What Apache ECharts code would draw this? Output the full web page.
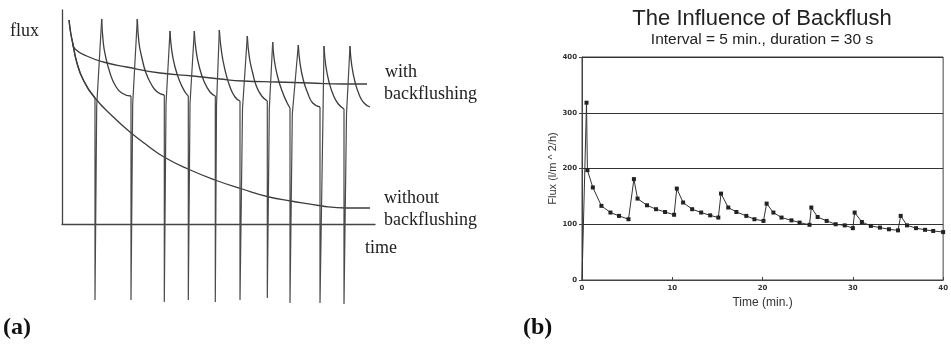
<!DOCTYPE html>
<html><head><meta charset="utf-8">
<script src="https://cdn.jsdelivr.net/npm/echarts@6/dist/echarts.min.js"></script>
<style>html,body{margin:0;padding:0;background:#fff}#c{width:951px;height:351px}</style>
</head><body><div id="c"></div>
<script>
// ---------- Panel (a): schematic flux vs time (arbitrary units) ----------
const aWithout = [[7,204],[8.7,191],[10.7,181],[14.7,162],[21.3,144],[33,126],[51.3,107],[68,92],[84.7,79],[102,67],[126,55],[153,44],[180,35],[207,27],[229,23],[260,18],[284,16],[308,16]];
const aWith = [[10.7,181],[13,175],[24.7,168],[41.3,162],[64.7,157],[98,151],[131,148],[158,145],[181,143],[215,142],[248,141],[281,140],[305,140]];
// decay portion of each backflush cycle (peak -> trough)
const aCycles = [
  [[7,204],[8.7,191],[10.7,181],[14.7,162],[21.3,144],[33,126]],
  [[39.7,205],[41.3,181],[43.7,167],[48,151],[53,139],[59.7,131],[69,128]],
  [[75.3,205],[77,181],[79.7,167],[84,151],[89.7,139],[95.3,132],[102.3,129]],
  [[108,193],[109.7,174],[113,157],[118,142],[123,132],[126.3,128]],
  [[132.3,193],[134,174],[137.3,157],[142.3,142],[148,132],[153.3,128]],
  [[157.3,194],[159.7,171],[163,154],[168,137],[173,127],[178,123]],
  [[185.3,188],[187.3,167],[190.7,151],[194.7,137],[199.7,128],[205.3,123]],
  [[210.7,182],[212.3,164],[215.7,147],[219.7,134],[224.7,122],[228,116]],
  [[236.3,179],[238,161],[241.3,144],[245.7,131],[250.7,121],[258,117]],
  [[262,178],[263.7,159],[267,142],[271.3,129],[276.3,120],[282,115]],
  [[288,178],[289.7,159],[293,142],[297.3,129],[302,121],[308,117]]
];
// backflush spikes: trough -> negative flux -> back up to next peak
const aSpikes = [
  [[33,126],[33,-76],[34.2,-76],[34.7,118],[39.7,205]],
  [[69,128],[69,-76],[70.2,-76],[70.7,120],[75.3,205]],
  [[102.3,129],[102.3,-78],[103.5,-78],[104,120],[108,193]],
  [[126.3,128],[126.3,-76],[127.5,-76],[128,120],[132.3,193]],
  [[153.3,128],[153.3,-78],[154,-78],[154.5,118],[157.3,194]],
  [[178,123],[178,-76],[179.5,-76],[180.5,115],[185.3,188]],
  [[205.3,123],[205.3,-74],[206.5,-74],[207.3,115],[210.7,182]],
  [[228,116],[228,-79],[229.5,-79],[230.3,110],[236.3,179]],
  [[258,117],[258,-79],[259.5,-79],[261,110],[262,178]],
  [[282,115],[282,-80],[283.5,-80],[284.5,110],[288,178]]
];

// ---------- Panel (b): The Influence of Backflush ----------
const bTime = [0,0.5,0.6,1.2,2.15,3.15,4.1,5.15,5.75,6.15,7.2,8.2,9.2,10.2,10.5,11.2,12.2,13.2,14.2,15.1,15.4,16.2,17.1,18.2,19.1,20.1,20.45,21.2,22.1,23.2,24.1,25.2,25.4,26.1,27.1,28.1,29.1,30.0,30.2,31.0,32.0,33.0,34.0,35.0,35.3,36.0,37.0,38.0,38.9,40.0];
const bFlux = [0,318,197,166,133,121,115,109,181,146,134,127,122,117,164,139,127,121,116,112,155,130,122,115,109,106,137,121,112,107,103,99,130,113,106,100,98,93,121,104,97,94,91,89,115,98,93,90,88,86];
const bXTicks = [0,10,20,30,40];
const bYTicks = [0,100,200,300,400];

const chart = echarts.init(document.getElementById('c'), null, {renderer:'canvas'});
const lineA = {color:'#3c3c3c', width:1.3};
const serif = '"Liberation Serif","Times New Roman",serif';
const sans = '"Liberation Sans",Arial,Helvetica,sans-serif';

const series = [];
const smoothA = {smooth:0.5, symbol:'none', clip:false, lineStyle:lineA, silent:true, xAxisIndex:0, yAxisIndex:0, type:'line'};
series.push(Object.assign({data:aWithout}, smoothA));
series.push(Object.assign({data:aWith}, smoothA));
aCycles.forEach(c => series.push(Object.assign({data:c}, smoothA)));
aSpikes.forEach(s => series.push({type:'line', xAxisIndex:0, yAxisIndex:0, data:s, smooth:false, symbol:'none', clip:false, lineStyle:{color:'#4a4a4a', width:1.2}, silent:true}));
series.push({type:'line', xAxisIndex:1, yAxisIndex:1, data:bTime.map((t,i)=>[t,bFlux[i]]),
  symbol:'rect', symbolSize:(v,p)=> p.dataIndex===0 ? 0 : 4, itemStyle:{color:'#222'},
  lineStyle:{color:'#333', width:1}, silent:true});

const option = {
  animation:false,
  backgroundColor:'#fff',
  title:{text:'The Influence of Backflush', subtext:'Interval = 5 min., duration = 30 s',
    left:757, top:3, textAlign:'center', itemGap:2,
    textStyle:{fontFamily:sans, fontSize:22, fontWeight:'normal', color:'#222'},
    subtextStyle:{fontFamily:sans, fontSize:15.5, color:'#222'}},
  grid:[
    {left:62, top:10, width:313, height:214},
    {left:582, top:57, width:365, height:223, show:true, borderColor:'#444', borderWidth:1, backgroundColor:'transparent'}
  ],
  xAxis:[
    {gridIndex:0, type:'value', min:0, max:313, axisLine:{show:true, lineStyle:{color:'#444', width:1.3}}, axisTick:{show:false}, axisLabel:{show:false}, splitLine:{show:false}},
    {gridIndex:1, type:'value', min:0, max:40, interval:10,
      name:'Time (min.)', nameLocation:'middle', nameGap:17,
      nameTextStyle:{fontFamily:sans, fontSize:12, color:'#333'},
      axisLine:{lineStyle:{color:'#444', width:1}}, axisTick:{show:true, inside:true, length:3, lineStyle:{color:'#444'}},
      axisLabel:{fontFamily:'"DejaVu Sans"', fontSize:7, fontWeight:'bold', color:'#333', margin:5,
        formatter:v=> bXTicks.includes(v) ? String(v) : ''},
      splitLine:{show:false}}
  ],
  yAxis:[
    {gridIndex:0, type:'value', min:0, max:214, axisLine:{show:true, lineStyle:{color:'#444', width:1.3}}, axisTick:{show:false}, axisLabel:{show:false}, splitLine:{show:false}},
    {gridIndex:1, type:'value', min:0, max:400, interval:100,
      name:'Flux (l/m ^ 2/h)', nameLocation:'middle', nameGap:24, nameRotate:90,
      nameTextStyle:{fontFamily:sans, fontSize:11, color:'#333'},
      axisLine:{show:true, lineStyle:{color:'#444', width:1}}, axisTick:{show:true, length:3, lineStyle:{color:'#444'}},
      axisLabel:{fontFamily:'"DejaVu Sans"', fontSize:7, fontWeight:'bold', color:'#333', margin:5,
        formatter:v=> bYTicks.includes(v) ? String(v) : ''},
      splitLine:{show:true, lineStyle:{color:'#333', width:1}}}
  ],
  graphic:[
    {type:'text', left:10, top:22, style:{text:'flux', font:'18px '+serif, fill:'#222'}},
    {type:'text', left:385, top:63, style:{text:'with', font:'18px '+serif, fill:'#222'}},
    {type:'text', left:384, top:85, style:{text:'backflushing', font:'18px '+serif, fill:'#222'}},
    {type:'text', left:384, top:189, style:{text:'without', font:'18px '+serif, fill:'#222'}},
    {type:'text', left:384, top:211, style:{text:'backflushing', font:'18px '+serif, fill:'#222'}},
    {type:'text', left:365, top:239, style:{text:'time', font:'18px '+serif, fill:'#222'}},
    {type:'text', left:3, top:316, style:{text:'(a)', font:'bold 24px '+serif, fill:'#111'}},
    {type:'text', left:523, top:316, style:{text:'(b)', font:'bold 24px '+serif, fill:'#111'}}
  ],
  series:series
};
chart.setOption(option);
</script>
</body></html>
